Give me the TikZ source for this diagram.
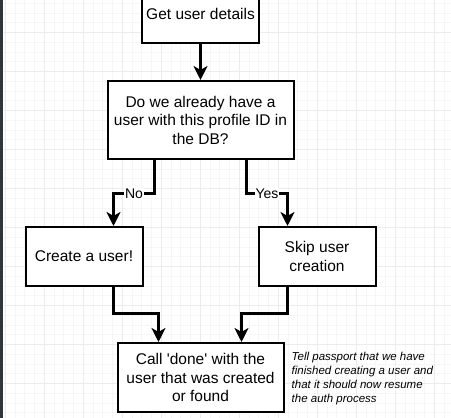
\documentclass[tikz,border=0pt]{standalone}
\usepackage{fontspec}
\setmainfont{Liberation Sans}
\usepackage{xcolor}
\usetikzlibrary{arrows.meta}
\usetikzlibrary{positioning}

\definecolor{minorgrid}{HTML}{F6F6F6}
\definecolor{majorgrid}{HTML}{ECECEC}
\definecolor{sidebar}{HTML}{2E373C}

\begin{document}
\begin{tikzpicture}[x=1pt,y=1pt,node distance=36pt,line join=miter]
	\tikzstyle{box}=[draw=black, fill=white, line width=2pt, align=center, inner sep=2pt,
		minimum width=117pt, minimum height=59pt, font=\fontsize{15.5}{18.5}\selectfont]
	\tikzstyle{arr}=[line width=3pt, -{Stealth[length=14pt,width=14pt,inset=4pt]}]
	\tikzstyle{lbl}=[fill=white, inner sep=1pt, font=\fontsize{14}{16}\selectfont]
	\useasboundingbox (0,0) rectangle (451,418);
	\clip (0,0) rectangle (451,418);
	% background grid
	\foreach \i in {-1,...,46}
		\draw[minorgrid, line width=0.5pt] ({5+9.75*\i},0) -- ({5+9.75*\i},418);
	\foreach \k in {-4,...,40}
		\draw[minorgrid, line width=0.5pt] (0,{385.5-9.75*\k}) -- (451,{385.5-9.75*\k});
	\foreach \i in {0,...,11}
		\draw[majorgrid, line width=0.7pt] ({5+39*\i},0) -- ({5+39*\i},418);
	\foreach \k in {-1,...,10}
		\draw[majorgrid, line width=0.7pt] (0,{385.5-39*\k}) -- (451,{385.5-39*\k});
	\fill[sidebar] (0,0) rectangle (2.5,418);

	\node[box] (A) at (200.5,404.5) {Get user details};
	\node[box, minimum width=186pt, minimum height=78pt] (B) [below=of A]
		{Do we already have a\\ user with this profile ID in\\ the DB?};
	\node[box] (C) [below=66pt of B, xshift=-116.5pt] {Create a user!};
	\node[box] (D) [below=66pt of B, xshift=116.5pt] {Skip user\\ creation};
	\node[box, minimum width=166pt, minimum height=69pt] (E) [below=55pt of C, xshift=116.5pt]
		{Call \textquotesingle done\textquotesingle{} with the\\ user that was created\\ or found};
	\node[align=left, inner sep=0pt, font=\fontsize{11.5}{13.7}\selectfont\itshape]
		(F) [right=7pt of E, yshift=-1pt]
		{Tell passport that we have\\ finished creating a user and\\ that it should now resume\\ the auth process};

	\draw[arr] (A) -- (B);
	\draw[arr] ([xshift=-46pt]B.south) -- ++(0,-34pt) -| node[lbl, pos=0.25] {No} ([xshift=29.5pt]C.north);
	\draw[arr] ([xshift=46pt]B.south) -- ++(0,-34pt) -| node[lbl, pos=0.25] {Yes} ([xshift=-29.5pt]D.north);
	\draw[arr] ([xshift=29.5pt]C.south) -- ++(0,-27pt) -| ([xshift=-42pt]E.north);
	\draw[arr] ([xshift=-29.5pt]D.south) -- ++(0,-27pt) -| ([xshift=41pt]E.north);
\end{tikzpicture}
\end{document}
